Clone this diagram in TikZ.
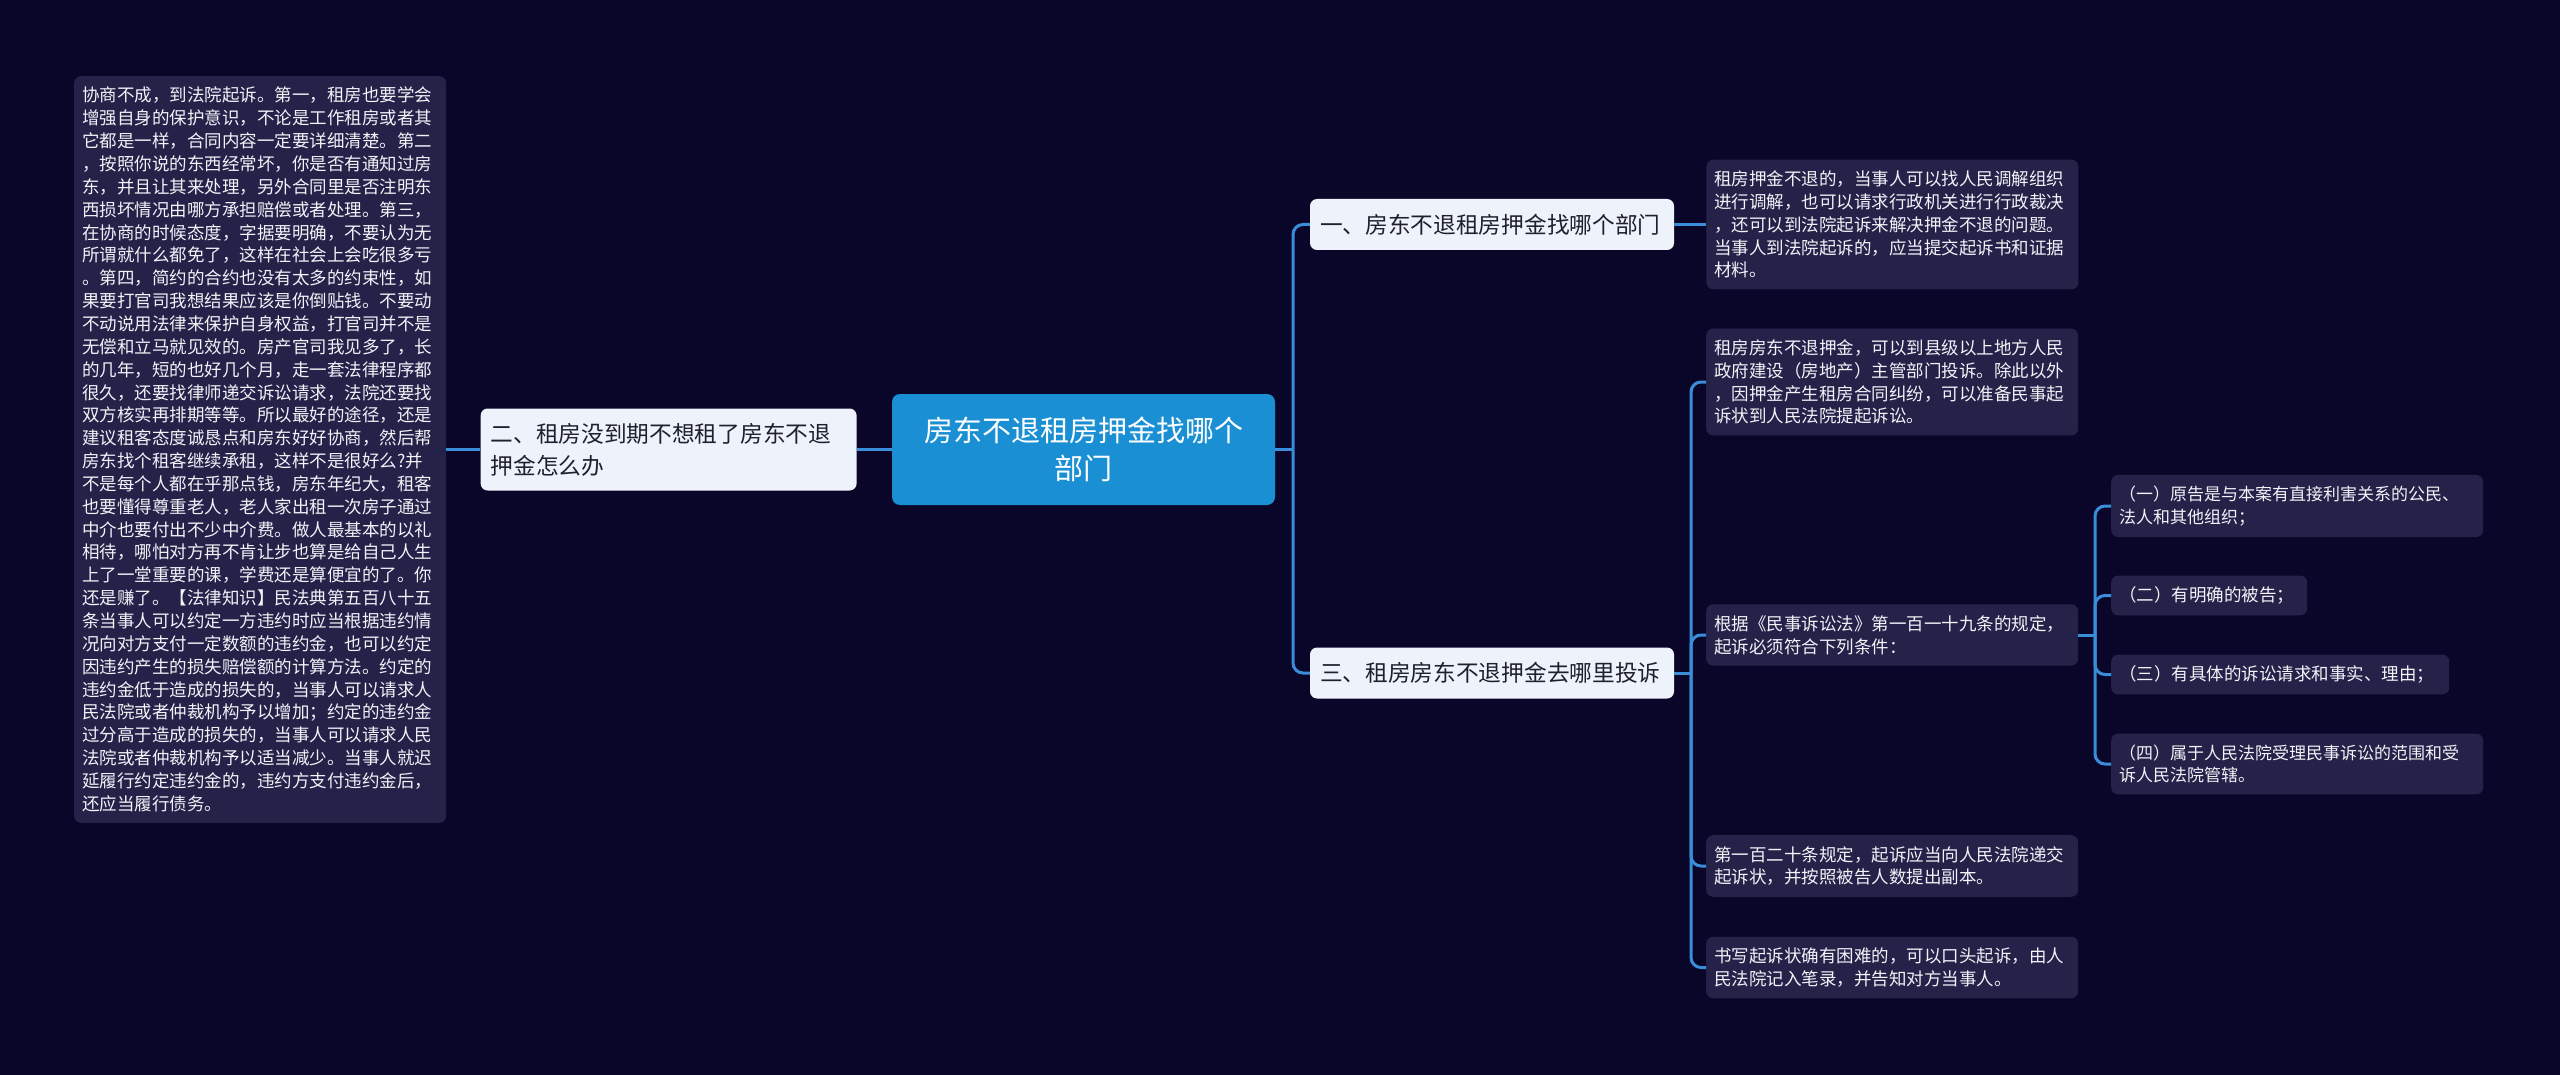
\documentclass[tikz,border=0pt]{standalone}
\usepackage{fontspec}
\setmainfont{Noto Sans CJK SC}
\usetikzlibrary{positioning}
\definecolor{pagebg}{HTML}{0A0629}
\definecolor{rootfill}{HTML}{1A8FD4}
\definecolor{topicfill}{HTML}{EEF3FB}
\definecolor{topictext}{HTML}{1F1F2E}
\definecolor{notefill}{HTML}{25224A}
\definecolor{notetext}{HTML}{F2F2F7}
\definecolor{linkblue}{HTML}{3A8DD8}

\begin{document}
\begin{tikzpicture}[
  x=1pt, y=-1pt,
  root/.style={fill=rootfill, text=white, rounded corners=8pt, align=center, minimum width=383pt, minimum height=111pt, inner sep=0pt, font=\fontsize{29}{38}\selectfont},
  topic/.style={fill=topicfill, text=topictext, rounded corners=7pt, align=left, inner xsep=10pt, inner ysep=0pt, font=\fontsize{22.7}{32}\selectfont},
  note/.style={fill=notefill, text=notetext, rounded corners=7pt, align=left, text width=356pt, inner xsep=8pt, inner ysep=11pt, font=\fontsize{17.5}{22.85}\selectfont},
  link/.style={draw=linkblue, line width=3pt, rounded corners=10pt}
]
  \fill[pagebg] (0,0) rectangle (2560,1075);

  \node[root] (root) at (1083.5,449.5) {房东不退租房押金找哪个\\部门};

  \node[topic, text width=356pt, minimum height=82pt, left=35pt of root] (quit) {二、租房没到期不想租了房东不退\\押金怎么办};
  \node[note, left=34pt of quit] (quitnote) {协商不成，到法院起诉。第一，租房也要学会\\增强自身的保护意识，不论是工作租房或者其\\它都是一样，合同内容一定要详细清楚。第二\\，按照你说的东西经常坏，你是否有通知过房\\东，并且让其来处理，另外合同里是否注明东\\西损坏情况由哪方承担赔偿或者处理。第三，\\在协商的时候态度，字据要明确，不要认为无\\所谓就什么都免了，这样在社会上会吃很多亏\\。第四，简约的合约也没有太多的约束性，如\\果要打官司我想结果应该是你倒贴钱。不要动\\不动说用法律来保护自身权益，打官司并不是\\无偿和立马就见效的。房产官司我见多了，长\\的几年，短的也好几个月，走一套法律程序都\\很久，还要找律师递交诉讼请求，法院还要找\\双方核实再排期等等。所以最好的途径，还是\\建议租客态度诚恳点和房东好好协商，然后帮\\房东找个租客继续承租，这样不是很好么?并\\不是每个人都在乎那点钱，房东年纪大，租客\\也要懂得尊重老人，老人家出租一次房子通过\\中介也要付出不少中介费。做人最基本的以礼\\相待，哪怕对方再不肯让步也算是给自己人生\\上了一堂重要的课，学费还是算便宜的了。你\\还是赚了。【法律知识】民法典第五百八十五\\条当事人可以约定一方违约时应当根据违约情\\况向对方支付一定数额的违约金，也可以约定\\因违约产生的损失赔偿额的计算方法。约定的\\违约金低于造成的损失的，当事人可以请求人\\民法院或者仲裁机构予以增加；约定的违约金\\过分高于造成的损失的，当事人可以请求人民\\法院或者仲裁机构予以适当减少。当事人就迟\\延履行约定违约金的，违约方支付违约金后，\\还应当履行债务。};

  \node[topic, text width=344pt, minimum height=51pt] (dept) at (1492,224.5) {一、房东不退租房押金找哪个部门};
  \node[note, right=32pt of dept] (deptnote) {租房押金不退的，当事人可以找人民调解组织\\进行调解，也可以请求行政机关进行行政裁决\\，还可以到法院起诉来解决押金不退的问题。\\当事人到法院起诉的，应当提交起诉书和证据\\材料。};

  \node[topic, text width=344pt, minimum height=51pt] (cmpl) at (1492,673) {三、租房房东不退押金去哪里投诉};
  \node[note, anchor=west] (bureau) at (1706,382) {租房房东不退押金，可以到县级以上地方人民\\政府建设（房地产）主管部门投诉。除此以外\\，因押金产生租房合同纠纷，可以准备民事起\\诉状到人民法院提起诉讼。};
  \node[note, anchor=west] (rule) at (1706,635) {根据《民事诉讼法》第一百一十九条的规定，\\起诉必须符合下列条件：};
  \node[note, anchor=west] (filing) at (1706,866) {第一百二十条规定，起诉应当向人民法院递交\\起诉状，并按照被告人数提出副本。};
  \node[note, anchor=west] (oral) at (1706,967.5) {书写起诉状确有困难的，可以口头起诉，由人\\民法院记入笔录，并告知对方当事人。};

  \node[note, anchor=west, font=\fontsize{17}{22.85}\selectfont] (plaintiff) at (2111,506) {（一）原告是与本案有直接利害关系的公民、\\法人和其他组织；};
  \node[note, anchor=west, text width=180pt] (defendant) at (2111,595.5) {（二）有明确的被告；};
  \node[note, anchor=west, text width=322pt] (claim) at (2111,674.5) {（三）有具体的诉讼请求和事实、理由；};
  \node[note, anchor=west, font=\fontsize{17}{22.85}\selectfont] (court) at (2111,764) {（四）属于人民法院受理民事诉讼的范围和受\\诉人民法院管辖。};

  \coordinate (fork) at (1293,449.5);
  \coordinate (cmplfork) at (1691,673);
  \coordinate (rulefork) at (2095,635);

  \draw[link] (root.west) -- (quit.east);
  \draw[link] (quit.west) -- (quitnote.east);
  \draw[link] (root.east) -- (fork);
  \draw[link] (fork) |- (dept.west);
  \draw[link] (fork) |- (cmpl.west);
  \draw[link] (dept.east) -- (deptnote.west);
  \draw[link] (cmpl.east) -- (cmplfork);
  \foreach \n in {bureau,rule,filing,oral}
    \draw[link] (cmplfork) |- (\n.west);
  \draw[link] (rule.east) -- (rulefork);
  \foreach \n in {plaintiff,defendant,claim,court}
    \draw[link] (rulefork) |- (\n.west);
\end{tikzpicture}
\end{document}
